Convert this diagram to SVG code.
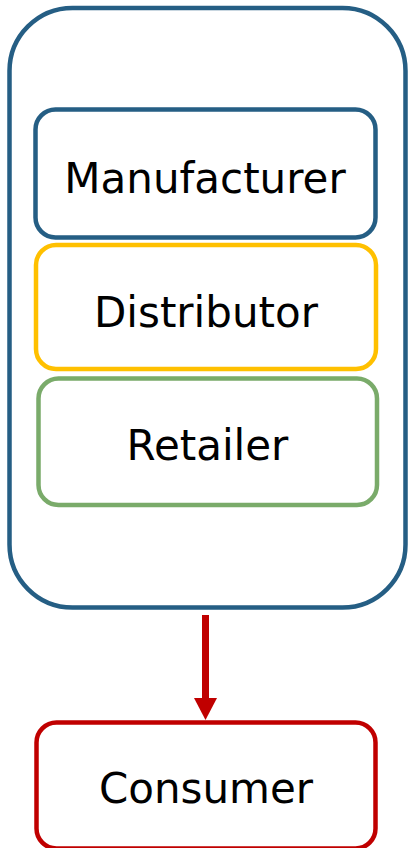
<svg xmlns="http://www.w3.org/2000/svg" width="409" height="848" viewBox="0 0 409 848">
<style>
.box{fill:none;stroke-width:4.5}
.lbl{font-family:"DejaVu Sans",Verdana,sans-serif;font-size:42px;fill:#000;text-anchor:middle}
</style>
<g id="container"><rect class="box" x="9.5" y="8" width="396" height="599.5" rx="63" stroke="#255e84"/></g>
<g id="manufacturer"><rect class="box" x="35.5" y="109.5" width="340" height="128" rx="20" stroke="#255e84"/><text class="lbl" x="205" y="193">Manufacturer</text></g>
<g id="distributor"><rect class="box" x="36" y="245" width="340" height="124" rx="20" stroke="#ffc000"/><text class="lbl" x="206" y="327">Distributor</text></g>
<g id="retailer"><rect class="box" x="38.5" y="378.5" width="338.5" height="126.5" rx="20" stroke="#7aab6a"/><text class="lbl" x="207.5" y="460">Retailer</text></g>
<g id="consumer"><rect class="box" x="36.5" y="722.5" width="339" height="126" rx="20" stroke="#c00000"/><text class="lbl" x="206" y="803">Consumer</text></g>
<g id="connectors">
<line x1="205.5" y1="615" x2="205.5" y2="700" stroke="#c00000" stroke-width="7"/>
<path d="M194,698 L217,698 L205.5,720 Z" fill="#c00000"/>
</g>
</svg>
